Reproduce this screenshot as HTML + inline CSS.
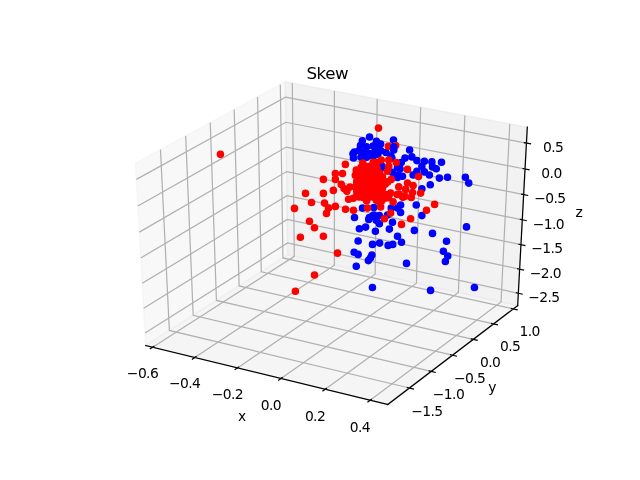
<!DOCTYPE html>
<html><head><meta charset="utf-8"><title>Skew</title>
<style>
html,body{margin:0;padding:0;background:#fff;}
svg{display:block;}
text{font-family:"DejaVu Sans","Liberation Sans",sans-serif;font-size:13.89px;fill:#000;text-anchor:middle;letter-spacing:-0.6px;}
.title{font-size:16.67px;letter-spacing:-0.5px;}
</style></head><body>
<svg width="640" height="480" viewBox="0 0 640 480">
<rect width="640" height="480" fill="#fff"/>
<polygon points="145.75,345.53 287.71,254.91 285.35,81.76 135.47,163.18" fill="#f2f2f2" fill-opacity="0.5" stroke="#f2f2f2" stroke-opacity="0.5" stroke-width="1.39" stroke-linejoin="miter"/>
<polygon points="287.71,254.91 517.67,305.57 527.29,127.20 285.35,81.76" fill="#e6e6e6" fill-opacity="0.5" stroke="#e6e6e6" stroke-opacity="0.5" stroke-width="1.39" stroke-linejoin="miter"/>
<polygon points="145.75,345.53 387.70,404.53 517.67,305.57 287.71,254.91" fill="#ececec" fill-opacity="0.5" stroke="#ececec" stroke-opacity="0.5" stroke-width="1.39" stroke-linejoin="miter"/>
<g>
<polyline points="145.75,345.53 387.70,404.53" fill="none" stroke="#000" stroke-width="1.25" stroke-linecap="square"/>
<polyline points="152.68,347.22 294.31,256.37 292.28,83.06" fill="none" stroke="#b0b0b0" stroke-width="1.22"/>
<polyline points="194.76,357.48 334.41,265.20 334.40,90.97" fill="none" stroke="#b0b0b0" stroke-width="1.22"/>
<polyline points="237.53,367.91 375.12,274.17 377.19,99.01" fill="none" stroke="#b0b0b0" stroke-width="1.22"/>
<polyline points="281.00,378.51 416.45,283.28 420.67,107.17" fill="none" stroke="#b0b0b0" stroke-width="1.22"/>
<polyline points="325.20,389.29 458.42,292.52 464.85,115.47" fill="none" stroke="#b0b0b0" stroke-width="1.22"/>
<polyline points="370.15,400.25 501.04,301.91 509.76,123.91" fill="none" stroke="#b0b0b0" stroke-width="1.22"/>
<polyline points="153.90,346.44 150.23,348.79" fill="none" stroke="#000" stroke-width="1.2" stroke-linecap="square"/>
<polyline points="195.96,356.69 192.34,359.08" fill="none" stroke="#000" stroke-width="1.2" stroke-linecap="square"/>
<polyline points="238.71,367.10 235.15,369.53" fill="none" stroke="#000" stroke-width="1.2" stroke-linecap="square"/>
<polyline points="282.17,377.69 278.66,380.16" fill="none" stroke="#000" stroke-width="1.2" stroke-linecap="square"/>
<polyline points="326.35,388.46 322.90,390.97" fill="none" stroke="#000" stroke-width="1.2" stroke-linecap="square"/>
<polyline points="371.28,399.40 367.88,401.96" fill="none" stroke="#000" stroke-width="1.2" stroke-linecap="square"/>
</g>
<g>
<polyline points="387.70,404.53 517.67,305.57" fill="none" stroke="#000" stroke-width="1.25" stroke-linecap="square"/>
<polyline points="409.38,388.03 169.36,330.46 160.48,149.59" fill="none" stroke="#b0b0b0" stroke-width="1.22"/>
<polyline points="431.22,371.40 193.18,315.26 185.68,135.90" fill="none" stroke="#b0b0b0" stroke-width="1.22"/>
<polyline points="452.51,355.18 216.43,300.42 210.24,122.56" fill="none" stroke="#b0b0b0" stroke-width="1.22"/>
<polyline points="473.28,339.37 239.12,285.93 234.18,109.56" fill="none" stroke="#b0b0b0" stroke-width="1.22"/>
<polyline points="493.53,323.95 261.28,271.79 257.53,96.87" fill="none" stroke="#b0b0b0" stroke-width="1.22"/>
<polyline points="513.29,308.91 282.92,257.97 280.31,84.50" fill="none" stroke="#b0b0b0" stroke-width="1.22"/>
<polyline points="407.37,387.55 413.40,388.99" fill="none" stroke="#000" stroke-width="1.2" stroke-linecap="square"/>
<polyline points="429.23,370.93 435.21,372.34" fill="none" stroke="#000" stroke-width="1.2" stroke-linecap="square"/>
<polyline points="450.54,354.73 456.46,356.10" fill="none" stroke="#000" stroke-width="1.2" stroke-linecap="square"/>
<polyline points="471.32,338.93 477.19,340.27" fill="none" stroke="#000" stroke-width="1.2" stroke-linecap="square"/>
<polyline points="491.59,323.52 497.41,324.82" fill="none" stroke="#000" stroke-width="1.2" stroke-linecap="square"/>
<polyline points="511.37,308.48 517.14,309.76" fill="none" stroke="#000" stroke-width="1.2" stroke-linecap="square"/>
</g>
<g>
<polyline points="517.67,305.57 527.29,127.20" fill="none" stroke="#000" stroke-width="1.25" stroke-linecap="square"/>
<polyline points="518.33,293.31 287.55,242.98 145.05,333.01" fill="none" stroke="#b0b0b0" stroke-width="1.22"/>
<polyline points="519.63,269.15 287.23,219.50 143.66,308.35" fill="none" stroke="#b0b0b0" stroke-width="1.22"/>
<polyline points="520.95,244.65 286.90,195.69 142.25,283.32" fill="none" stroke="#b0b0b0" stroke-width="1.22"/>
<polyline points="522.30,219.80 286.57,171.56 140.81,257.92" fill="none" stroke="#b0b0b0" stroke-width="1.22"/>
<polyline points="523.66,194.59 286.24,147.08 139.36,232.14" fill="none" stroke="#b0b0b0" stroke-width="1.22"/>
<polyline points="525.03,169.00 285.90,122.27 137.89,205.97" fill="none" stroke="#b0b0b0" stroke-width="1.22"/>
<polyline points="526.43,143.04 285.56,97.11 136.39,179.40" fill="none" stroke="#b0b0b0" stroke-width="1.22"/>
<polyline points="516.40,292.89 522.19,294.15" fill="none" stroke="#000" stroke-width="1.2" stroke-linecap="square"/>
<polyline points="517.69,268.74 523.52,269.98" fill="none" stroke="#000" stroke-width="1.2" stroke-linecap="square"/>
<polyline points="519.00,244.24 524.87,245.47" fill="none" stroke="#000" stroke-width="1.2" stroke-linecap="square"/>
<polyline points="520.33,219.40 526.24,220.61" fill="none" stroke="#000" stroke-width="1.2" stroke-linecap="square"/>
<polyline points="521.67,194.19 527.63,195.38" fill="none" stroke="#000" stroke-width="1.2" stroke-linecap="square"/>
<polyline points="523.04,168.61 529.04,169.79" fill="none" stroke="#000" stroke-width="1.2" stroke-linecap="square"/>
<polyline points="524.42,142.66 530.47,143.81" fill="none" stroke="#000" stroke-width="1.2" stroke-linecap="square"/>
</g>
<g>
<circle cx="354.5" cy="217.5" r="3.1" fill="#0000ff" fill-opacity="1" stroke="#0000ff" stroke-opacity="1" stroke-width="1.39"/>
<circle cx="359.38" cy="228.75" r="3.1" fill="#0000ff" fill-opacity="1" stroke="#0000ff" stroke-opacity="1" stroke-width="1.39"/>
<circle cx="386" cy="152.5" r="3.1" fill="#0000ff" fill-opacity="1" stroke="#0000ff" stroke-opacity="1" stroke-width="1.39"/>
<circle cx="393.5" cy="140.0" r="3.1" fill="#0000ff" fill-opacity="1" stroke="#0000ff" stroke-opacity="1" stroke-width="1.39"/>
<circle cx="409.62" cy="150.0" r="3.1" fill="#0000ff" fill-opacity="1" stroke="#0000ff" stroke-opacity="1" stroke-width="1.39"/>
<circle cx="405.0" cy="158.12" r="3.1" fill="#0000ff" fill-opacity="1" stroke="#0000ff" stroke-opacity="1" stroke-width="1.39"/>
<circle cx="411.88" cy="156.88" r="3.1" fill="#0000ff" fill-opacity="1" stroke="#0000ff" stroke-opacity="1" stroke-width="1.39"/>
<circle cx="416.88" cy="160.62" r="3.1" fill="#0000ff" fill-opacity="1" stroke="#0000ff" stroke-opacity="1" stroke-width="1.39"/>
<circle cx="424.38" cy="161.25" r="3.1" fill="#0000ff" fill-opacity="1" stroke="#0000ff" stroke-opacity="1" stroke-width="1.39"/>
<circle cx="431.88" cy="161.88" r="3.1" fill="#0000ff" fill-opacity="1" stroke="#0000ff" stroke-opacity="1" stroke-width="1.39"/>
<circle cx="441.5" cy="162.25" r="3.1" fill="#0000ff" fill-opacity="1" stroke="#0000ff" stroke-opacity="1" stroke-width="1.39"/>
<circle cx="421.88" cy="166.25" r="3.1" fill="#0000ff" fill-opacity="1" stroke="#0000ff" stroke-opacity="1" stroke-width="1.39"/>
<circle cx="432.5" cy="166.88" r="3.1" fill="#0000ff" fill-opacity="1" stroke="#0000ff" stroke-opacity="1" stroke-width="1.39"/>
<circle cx="436.25" cy="168.75" r="3.1" fill="#0000ff" fill-opacity="1" stroke="#0000ff" stroke-opacity="1" stroke-width="1.39"/>
<circle cx="416.88" cy="171.25" r="3.1" fill="#0000ff" fill-opacity="1" stroke="#0000ff" stroke-opacity="1" stroke-width="1.39"/>
<circle cx="424.38" cy="171.88" r="3.1" fill="#0000ff" fill-opacity="1" stroke="#0000ff" stroke-opacity="1" stroke-width="1.39"/>
<circle cx="429.38" cy="175.0" r="3.1" fill="#0000ff" fill-opacity="1" stroke="#0000ff" stroke-opacity="1" stroke-width="1.39"/>
<circle cx="439.38" cy="178.12" r="3.1" fill="#0000ff" fill-opacity="1" stroke="#0000ff" stroke-opacity="1" stroke-width="1.39"/>
<circle cx="447.5" cy="177.25" r="3.1" fill="#0000ff" fill-opacity="1" stroke="#0000ff" stroke-opacity="1" stroke-width="1.39"/>
<circle cx="465.38" cy="177.25" r="3.1" fill="#0000ff" fill-opacity="1" stroke="#0000ff" stroke-opacity="1" stroke-width="1.39"/>
<circle cx="468.75" cy="183.12" r="3.1" fill="#0000ff" fill-opacity="1" stroke="#0000ff" stroke-opacity="1" stroke-width="1.39"/>
<circle cx="430.25" cy="184.75" r="3.1" fill="#0000ff" fill-opacity="1" stroke="#0000ff" stroke-opacity="1" stroke-width="1.39"/>
<circle cx="421.88" cy="188.75" r="3.1" fill="#0000ff" fill-opacity="1" stroke="#0000ff" stroke-opacity="1" stroke-width="1.39"/>
<circle cx="413.12" cy="175.0" r="3.1" fill="#0000ff" fill-opacity="1" stroke="#0000ff" stroke-opacity="1" stroke-width="1.39"/>
<circle cx="400.0" cy="168.75" r="3.1" fill="#0000ff" fill-opacity="1" stroke="#0000ff" stroke-opacity="1" stroke-width="1.39"/>
<circle cx="397.5" cy="177.5" r="3.1" fill="#0000ff" fill-opacity="1" stroke="#0000ff" stroke-opacity="1" stroke-width="1.39"/>
<circle cx="402.5" cy="176.25" r="3.1" fill="#0000ff" fill-opacity="1" stroke="#0000ff" stroke-opacity="1" stroke-width="1.39"/>
<circle cx="392.5" cy="172.5" r="3.1" fill="#0000ff" fill-opacity="1" stroke="#0000ff" stroke-opacity="1" stroke-width="1.39"/>
<circle cx="401.25" cy="162.5" r="3.1" fill="#0000ff" fill-opacity="1" stroke="#0000ff" stroke-opacity="1" stroke-width="1.39"/>
<circle cx="421.88" cy="215.62" r="3.1" fill="#0000ff" fill-opacity="1" stroke="#0000ff" stroke-opacity="1" stroke-width="1.39"/>
<circle cx="466.5" cy="226.88" r="3.1" fill="#0000ff" fill-opacity="1" stroke="#0000ff" stroke-opacity="1" stroke-width="1.39"/>
<circle cx="416.25" cy="205.0" r="3.1" fill="#0000ff" fill-opacity="1" stroke="#0000ff" stroke-opacity="1" stroke-width="1.39"/>
<circle cx="400.62" cy="205.0" r="3.1" fill="#0000ff" fill-opacity="1" stroke="#0000ff" stroke-opacity="1" stroke-width="1.39"/>
<circle cx="400.62" cy="212.5" r="3.1" fill="#0000ff" fill-opacity="1" stroke="#0000ff" stroke-opacity="1" stroke-width="1.39"/>
<circle cx="397.5" cy="208.12" r="3.1" fill="#0000ff" fill-opacity="1" stroke="#0000ff" stroke-opacity="1" stroke-width="1.39"/>
<circle cx="362.5" cy="208.12" r="3.1" fill="#0000ff" fill-opacity="1" stroke="#0000ff" stroke-opacity="1" stroke-width="1.39"/>
<circle cx="369.38" cy="217.5" r="3.1" fill="#0000ff" fill-opacity="1" stroke="#0000ff" stroke-opacity="1" stroke-width="1.39"/>
<circle cx="373.75" cy="215.0" r="3.1" fill="#0000ff" fill-opacity="1" stroke="#0000ff" stroke-opacity="1" stroke-width="1.39"/>
<circle cx="379.38" cy="215.62" r="3.1" fill="#0000ff" fill-opacity="1" stroke="#0000ff" stroke-opacity="1" stroke-width="1.39"/>
<circle cx="373.75" cy="207.5" r="3.1" fill="#0000ff" fill-opacity="1" stroke="#0000ff" stroke-opacity="1" stroke-width="1.39"/>
<circle cx="387.5" cy="215.0" r="3.1" fill="#0000ff" fill-opacity="1" stroke="#0000ff" stroke-opacity="1" stroke-width="1.39"/>
<circle cx="391.25" cy="208.12" r="3.1" fill="#0000ff" fill-opacity="1" stroke="#0000ff" stroke-opacity="1" stroke-width="1.39"/>
<circle cx="358.12" cy="241.0" r="3.1" fill="#0000ff" fill-opacity="1" stroke="#0000ff" stroke-opacity="1" stroke-width="1.39"/>
<circle cx="354.12" cy="252.25" r="3.1" fill="#0000ff" fill-opacity="1" stroke="#0000ff" stroke-opacity="1" stroke-width="1.39"/>
<circle cx="358.12" cy="254.38" r="3.1" fill="#0000ff" fill-opacity="1" stroke="#0000ff" stroke-opacity="1" stroke-width="1.39"/>
<circle cx="356.25" cy="266.25" r="3.1" fill="#0000ff" fill-opacity="1" stroke="#0000ff" stroke-opacity="1" stroke-width="1.39"/>
<circle cx="368.75" cy="219.38" r="3.1" fill="#0000ff" fill-opacity="1" stroke="#0000ff" stroke-opacity="1" stroke-width="1.39"/>
<circle cx="379.38" cy="223.75" r="3.1" fill="#0000ff" fill-opacity="1" stroke="#0000ff" stroke-opacity="1" stroke-width="1.39"/>
<circle cx="392.5" cy="222.25" r="3.1" fill="#0000ff" fill-opacity="1" stroke="#0000ff" stroke-opacity="1" stroke-width="1.39"/>
<circle cx="365.62" cy="227.12" r="3.1" fill="#0000ff" fill-opacity="1" stroke="#0000ff" stroke-opacity="1" stroke-width="1.39"/>
<circle cx="375.38" cy="231.25" r="3.1" fill="#0000ff" fill-opacity="1" stroke="#0000ff" stroke-opacity="1" stroke-width="1.39"/>
<circle cx="389.38" cy="229.12" r="3.1" fill="#0000ff" fill-opacity="1" stroke="#0000ff" stroke-opacity="1" stroke-width="1.39"/>
<circle cx="414.38" cy="230.38" r="3.1" fill="#0000ff" fill-opacity="1" stroke="#0000ff" stroke-opacity="1" stroke-width="1.39"/>
<circle cx="397.5" cy="236.25" r="3.1" fill="#0000ff" fill-opacity="1" stroke="#0000ff" stroke-opacity="1" stroke-width="1.39"/>
<circle cx="372.5" cy="244.38" r="3.1" fill="#0000ff" fill-opacity="1" stroke="#0000ff" stroke-opacity="1" stroke-width="1.39"/>
<circle cx="379.62" cy="243.12" r="3.1" fill="#0000ff" fill-opacity="1" stroke="#0000ff" stroke-opacity="1" stroke-width="1.39"/>
<circle cx="388.12" cy="245.38" r="3.1" fill="#0000ff" fill-opacity="1" stroke="#0000ff" stroke-opacity="1" stroke-width="1.39"/>
<circle cx="392.75" cy="244.38" r="3.1" fill="#0000ff" fill-opacity="1" stroke="#0000ff" stroke-opacity="1" stroke-width="1.39"/>
<circle cx="401.5" cy="242.25" r="3.1" fill="#0000ff" fill-opacity="1" stroke="#0000ff" stroke-opacity="1" stroke-width="1.39"/>
<circle cx="371.88" cy="255.0" r="3.1" fill="#0000ff" fill-opacity="1" stroke="#0000ff" stroke-opacity="1" stroke-width="1.39"/>
<circle cx="370.38" cy="258.12" r="3.1" fill="#0000ff" fill-opacity="1" stroke="#0000ff" stroke-opacity="1" stroke-width="1.39"/>
<circle cx="368.38" cy="260.62" r="3.1" fill="#0000ff" fill-opacity="1" stroke="#0000ff" stroke-opacity="1" stroke-width="1.39"/>
<circle cx="406.5" cy="263.38" r="3.1" fill="#0000ff" fill-opacity="1" stroke="#0000ff" stroke-opacity="1" stroke-width="1.39"/>
<circle cx="432.5" cy="233.38" r="3.1" fill="#0000ff" fill-opacity="1" stroke="#0000ff" stroke-opacity="1" stroke-width="1.39"/>
<circle cx="446.5" cy="241.25" r="3.1" fill="#0000ff" fill-opacity="1" stroke="#0000ff" stroke-opacity="1" stroke-width="1.39"/>
<circle cx="443.38" cy="251.25" r="3.1" fill="#0000ff" fill-opacity="1" stroke="#0000ff" stroke-opacity="1" stroke-width="1.39"/>
<circle cx="447.75" cy="256.0" r="3.1" fill="#0000ff" fill-opacity="1" stroke="#0000ff" stroke-opacity="1" stroke-width="1.39"/>
<circle cx="445.38" cy="261.5" r="3.1" fill="#0000ff" fill-opacity="1" stroke="#0000ff" stroke-opacity="1" stroke-width="1.39"/>
<circle cx="372.44" cy="287.56" r="3.1" fill="#0000ff" fill-opacity="1" stroke="#0000ff" stroke-opacity="1" stroke-width="1.39"/>
<circle cx="430.56" cy="290.38" r="3.1" fill="#0000ff" fill-opacity="1" stroke="#0000ff" stroke-opacity="1" stroke-width="1.39"/>
<circle cx="474.44" cy="287.56" r="3.1" fill="#0000ff" fill-opacity="1" stroke="#0000ff" stroke-opacity="1" stroke-width="1.39"/>
<circle cx="352.97" cy="153.75" r="3.1" fill="#0000ff" fill-opacity="1" stroke="#0000ff" stroke-opacity="1" stroke-width="1.39"/>
<circle cx="353.44" cy="157.97" r="3.1" fill="#0000ff" fill-opacity="1" stroke="#0000ff" stroke-opacity="1" stroke-width="1.39"/>
<circle cx="382.03" cy="167.81" r="3.1" fill="#0000ff" fill-opacity="1" stroke="#0000ff" stroke-opacity="1" stroke-width="1.39"/>
<circle cx="377.81" cy="174.37" r="3.1" fill="#0000ff" fill-opacity="1" stroke="#0000ff" stroke-opacity="1" stroke-width="1.39"/>
<circle cx="372.5" cy="216.09" r="3.1" fill="#0000ff" fill-opacity="1" stroke="#0000ff" stroke-opacity="1" stroke-width="1.39"/>
<circle cx="376.25" cy="220.31" r="3.1" fill="#0000ff" fill-opacity="1" stroke="#0000ff" stroke-opacity="1" stroke-width="1.39"/>
<circle cx="378.75" cy="144.69" r="3.1" fill="#0000ff" fill-opacity="1" stroke="#0000ff" stroke-opacity="1" stroke-width="1.39"/>
<circle cx="378.75" cy="151.25" r="3.1" fill="#0000ff" fill-opacity="1" stroke="#0000ff" stroke-opacity="1" stroke-width="1.39"/>
<circle cx="398.44" cy="174.69" r="3.1" fill="#0000ff" fill-opacity="1" stroke="#0000ff" stroke-opacity="1" stroke-width="1.39"/>
<circle cx="390.94" cy="155.94" r="3.1" fill="#0000ff" fill-opacity="1" stroke="#0000ff" stroke-opacity="1" stroke-width="1.39"/>
<circle cx="382.03" cy="166.25" r="3.1" fill="#0000ff" fill-opacity="1" stroke="#0000ff" stroke-opacity="1" stroke-width="1.39"/>
<circle cx="369.56" cy="137.03" r="3.1" fill="#0000ff" fill-opacity="1" stroke="#0000ff" stroke-opacity="1" stroke-width="1.39"/>
<circle cx="362.34" cy="140.78" r="3.1" fill="#0000ff" fill-opacity="1" stroke="#0000ff" stroke-opacity="1" stroke-width="1.39"/>
<circle cx="376.41" cy="141.25" r="3.1" fill="#0000ff" fill-opacity="1" stroke="#0000ff" stroke-opacity="1" stroke-width="1.39"/>
<circle cx="380.62" cy="144.06" r="3.1" fill="#0000ff" fill-opacity="1" stroke="#0000ff" stroke-opacity="1" stroke-width="1.39"/>
<circle cx="360.47" cy="145.47" r="3.1" fill="#0000ff" fill-opacity="1" stroke="#0000ff" stroke-opacity="1" stroke-width="1.39"/>
<circle cx="366.56" cy="146.87" r="3.1" fill="#0000ff" fill-opacity="1" stroke="#0000ff" stroke-opacity="1" stroke-width="1.39"/>
<circle cx="373.12" cy="145.94" r="3.1" fill="#0000ff" fill-opacity="1" stroke="#0000ff" stroke-opacity="1" stroke-width="1.39"/>
<circle cx="354.37" cy="152.03" r="3.1" fill="#0000ff" fill-opacity="1" stroke="#0000ff" stroke-opacity="1" stroke-width="1.39"/>
<circle cx="359.06" cy="150.62" r="3.1" fill="#0000ff" fill-opacity="1" stroke="#0000ff" stroke-opacity="1" stroke-width="1.39"/>
<circle cx="363.75" cy="152.5" r="3.1" fill="#0000ff" fill-opacity="1" stroke="#0000ff" stroke-opacity="1" stroke-width="1.39"/>
<circle cx="369.37" cy="153.44" r="3.1" fill="#0000ff" fill-opacity="1" stroke="#0000ff" stroke-opacity="1" stroke-width="1.39"/>
<circle cx="375.0" cy="151.56" r="3.1" fill="#0000ff" fill-opacity="1" stroke="#0000ff" stroke-opacity="1" stroke-width="1.39"/>
<circle cx="380.62" cy="150.62" r="3.1" fill="#0000ff" fill-opacity="1" stroke="#0000ff" stroke-opacity="1" stroke-width="1.39"/>
<circle cx="360.94" cy="157.19" r="3.1" fill="#0000ff" fill-opacity="1" stroke="#0000ff" stroke-opacity="1" stroke-width="1.39"/>
<circle cx="366.56" cy="157.19" r="3.1" fill="#0000ff" fill-opacity="1" stroke="#0000ff" stroke-opacity="1" stroke-width="1.39"/>
<circle cx="373.12" cy="156.25" r="3.1" fill="#0000ff" fill-opacity="1" stroke="#0000ff" stroke-opacity="1" stroke-width="1.39"/>
<circle cx="377.81" cy="154.37" r="3.1" fill="#0000ff" fill-opacity="1" stroke="#0000ff" stroke-opacity="1" stroke-width="1.39"/>
<circle cx="397.5" cy="167.5" r="3.1" fill="#0000ff" fill-opacity="1" stroke="#0000ff" stroke-opacity="1" stroke-width="1.39"/>
<circle cx="391.87" cy="158.12" r="3.1" fill="#0000ff" fill-opacity="1" stroke="#0000ff" stroke-opacity="1" stroke-width="1.39"/>
<circle cx="355.81" cy="175.29" r="3.1" fill="#ff0000" fill-opacity="1" stroke="#ff0000" stroke-opacity="1" stroke-width="1.39"/>
<circle cx="356.69" cy="181.67" r="3.1" fill="#ff0000" fill-opacity="1" stroke="#ff0000" stroke-opacity="1" stroke-width="1.39"/>
<circle cx="356.73" cy="184.42" r="3.1" fill="#ff0000" fill-opacity="1" stroke="#ff0000" stroke-opacity="1" stroke-width="1.39"/>
<circle cx="357.08" cy="188.54" r="3.1" fill="#ff0000" fill-opacity="1" stroke="#ff0000" stroke-opacity="1" stroke-width="1.39"/>
<circle cx="356.76" cy="191.17" r="3.1" fill="#ff0000" fill-opacity="1" stroke="#ff0000" stroke-opacity="1" stroke-width="1.39"/>
<circle cx="356.95" cy="194.79" r="3.1" fill="#ff0000" fill-opacity="1" stroke="#ff0000" stroke-opacity="1" stroke-width="1.39"/>
<circle cx="359.15" cy="171.48" r="3.1" fill="#ff0000" fill-opacity="1" stroke="#ff0000" stroke-opacity="1" stroke-width="1.39"/>
<circle cx="358.92" cy="175.83" r="3.1" fill="#ff0000" fill-opacity="1" stroke="#ff0000" stroke-opacity="1" stroke-width="1.39"/>
<circle cx="359.82" cy="177.83" r="3.1" fill="#ff0000" fill-opacity="1" stroke="#ff0000" stroke-opacity="1" stroke-width="1.39"/>
<circle cx="359.46" cy="180.88" r="3.1" fill="#ff0000" fill-opacity="1" stroke="#ff0000" stroke-opacity="1" stroke-width="1.39"/>
<circle cx="359.13" cy="185.17" r="3.1" fill="#ff0000" fill-opacity="1" stroke="#ff0000" stroke-opacity="1" stroke-width="1.39"/>
<circle cx="359.84" cy="187.97" r="3.1" fill="#ff0000" fill-opacity="1" stroke="#ff0000" stroke-opacity="1" stroke-width="1.39"/>
<circle cx="359.24" cy="191.44" r="3.1" fill="#ff0000" fill-opacity="1" stroke="#ff0000" stroke-opacity="1" stroke-width="1.39"/>
<circle cx="360.33" cy="194.3" r="3.1" fill="#ff0000" fill-opacity="1" stroke="#ff0000" stroke-opacity="1" stroke-width="1.39"/>
<circle cx="358.91" cy="196.89" r="3.1" fill="#ff0000" fill-opacity="1" stroke="#ff0000" stroke-opacity="1" stroke-width="1.39"/>
<circle cx="363.11" cy="169.35" r="3.1" fill="#ff0000" fill-opacity="1" stroke="#ff0000" stroke-opacity="1" stroke-width="1.39"/>
<circle cx="363.16" cy="171.77" r="3.1" fill="#ff0000" fill-opacity="1" stroke="#ff0000" stroke-opacity="1" stroke-width="1.39"/>
<circle cx="363.16" cy="174.62" r="3.1" fill="#ff0000" fill-opacity="1" stroke="#ff0000" stroke-opacity="1" stroke-width="1.39"/>
<circle cx="362.5" cy="178.27" r="3.1" fill="#ff0000" fill-opacity="1" stroke="#ff0000" stroke-opacity="1" stroke-width="1.39"/>
<circle cx="363.4" cy="181.05" r="3.1" fill="#ff0000" fill-opacity="1" stroke="#ff0000" stroke-opacity="1" stroke-width="1.39"/>
<circle cx="363.41" cy="185.28" r="3.1" fill="#ff0000" fill-opacity="1" stroke="#ff0000" stroke-opacity="1" stroke-width="1.39"/>
<circle cx="363.55" cy="187.79" r="3.1" fill="#ff0000" fill-opacity="1" stroke="#ff0000" stroke-opacity="1" stroke-width="1.39"/>
<circle cx="362.33" cy="190.78" r="3.1" fill="#ff0000" fill-opacity="1" stroke="#ff0000" stroke-opacity="1" stroke-width="1.39"/>
<circle cx="363.32" cy="195.14" r="3.1" fill="#ff0000" fill-opacity="1" stroke="#ff0000" stroke-opacity="1" stroke-width="1.39"/>
<circle cx="363.12" cy="197.57" r="3.1" fill="#ff0000" fill-opacity="1" stroke="#ff0000" stroke-opacity="1" stroke-width="1.39"/>
<circle cx="366.44" cy="168.37" r="3.1" fill="#ff0000" fill-opacity="1" stroke="#ff0000" stroke-opacity="1" stroke-width="1.39"/>
<circle cx="366.74" cy="172.4" r="3.1" fill="#ff0000" fill-opacity="1" stroke="#ff0000" stroke-opacity="1" stroke-width="1.39"/>
<circle cx="365.75" cy="175.92" r="3.1" fill="#ff0000" fill-opacity="1" stroke="#ff0000" stroke-opacity="1" stroke-width="1.39"/>
<circle cx="366.32" cy="178.94" r="3.1" fill="#ff0000" fill-opacity="1" stroke="#ff0000" stroke-opacity="1" stroke-width="1.39"/>
<circle cx="365.27" cy="180.89" r="3.1" fill="#ff0000" fill-opacity="1" stroke="#ff0000" stroke-opacity="1" stroke-width="1.39"/>
<circle cx="366.39" cy="184.49" r="3.1" fill="#ff0000" fill-opacity="1" stroke="#ff0000" stroke-opacity="1" stroke-width="1.39"/>
<circle cx="366.03" cy="187.45" r="3.1" fill="#ff0000" fill-opacity="1" stroke="#ff0000" stroke-opacity="1" stroke-width="1.39"/>
<circle cx="366.76" cy="191.2" r="3.1" fill="#ff0000" fill-opacity="1" stroke="#ff0000" stroke-opacity="1" stroke-width="1.39"/>
<circle cx="366.53" cy="193.72" r="3.1" fill="#ff0000" fill-opacity="1" stroke="#ff0000" stroke-opacity="1" stroke-width="1.39"/>
<circle cx="365.97" cy="196.9" r="3.1" fill="#ff0000" fill-opacity="1" stroke="#ff0000" stroke-opacity="1" stroke-width="1.39"/>
<circle cx="366.61" cy="200.71" r="3.1" fill="#ff0000" fill-opacity="1" stroke="#ff0000" stroke-opacity="1" stroke-width="1.39"/>
<circle cx="368.84" cy="169.28" r="3.1" fill="#ff0000" fill-opacity="1" stroke="#ff0000" stroke-opacity="1" stroke-width="1.39"/>
<circle cx="368.64" cy="171.56" r="3.1" fill="#ff0000" fill-opacity="1" stroke="#ff0000" stroke-opacity="1" stroke-width="1.39"/>
<circle cx="368.79" cy="175.17" r="3.1" fill="#ff0000" fill-opacity="1" stroke="#ff0000" stroke-opacity="1" stroke-width="1.39"/>
<circle cx="368.4" cy="177.65" r="3.1" fill="#ff0000" fill-opacity="1" stroke="#ff0000" stroke-opacity="1" stroke-width="1.39"/>
<circle cx="369.14" cy="181.06" r="3.1" fill="#ff0000" fill-opacity="1" stroke="#ff0000" stroke-opacity="1" stroke-width="1.39"/>
<circle cx="369.49" cy="185.27" r="3.1" fill="#ff0000" fill-opacity="1" stroke="#ff0000" stroke-opacity="1" stroke-width="1.39"/>
<circle cx="369.33" cy="188.31" r="3.1" fill="#ff0000" fill-opacity="1" stroke="#ff0000" stroke-opacity="1" stroke-width="1.39"/>
<circle cx="369.03" cy="190.47" r="3.1" fill="#ff0000" fill-opacity="1" stroke="#ff0000" stroke-opacity="1" stroke-width="1.39"/>
<circle cx="369.1" cy="194.2" r="3.1" fill="#ff0000" fill-opacity="1" stroke="#ff0000" stroke-opacity="1" stroke-width="1.39"/>
<circle cx="369.36" cy="197.01" r="3.1" fill="#ff0000" fill-opacity="1" stroke="#ff0000" stroke-opacity="1" stroke-width="1.39"/>
<circle cx="372.73" cy="168.1" r="3.1" fill="#ff0000" fill-opacity="1" stroke="#ff0000" stroke-opacity="1" stroke-width="1.39"/>
<circle cx="372.07" cy="172.78" r="3.1" fill="#ff0000" fill-opacity="1" stroke="#ff0000" stroke-opacity="1" stroke-width="1.39"/>
<circle cx="373.15" cy="175.17" r="3.1" fill="#ff0000" fill-opacity="1" stroke="#ff0000" stroke-opacity="1" stroke-width="1.39"/>
<circle cx="372.78" cy="178.61" r="3.1" fill="#ff0000" fill-opacity="1" stroke="#ff0000" stroke-opacity="1" stroke-width="1.39"/>
<circle cx="372.35" cy="182.17" r="3.1" fill="#ff0000" fill-opacity="1" stroke="#ff0000" stroke-opacity="1" stroke-width="1.39"/>
<circle cx="371.88" cy="185.33" r="3.1" fill="#ff0000" fill-opacity="1" stroke="#ff0000" stroke-opacity="1" stroke-width="1.39"/>
<circle cx="371.67" cy="188.59" r="3.1" fill="#ff0000" fill-opacity="1" stroke="#ff0000" stroke-opacity="1" stroke-width="1.39"/>
<circle cx="372.68" cy="191.11" r="3.1" fill="#ff0000" fill-opacity="1" stroke="#ff0000" stroke-opacity="1" stroke-width="1.39"/>
<circle cx="372.67" cy="194.34" r="3.1" fill="#ff0000" fill-opacity="1" stroke="#ff0000" stroke-opacity="1" stroke-width="1.39"/>
<circle cx="372.85" cy="196.98" r="3.1" fill="#ff0000" fill-opacity="1" stroke="#ff0000" stroke-opacity="1" stroke-width="1.39"/>
<circle cx="375.26" cy="169.44" r="3.1" fill="#ff0000" fill-opacity="1" stroke="#ff0000" stroke-opacity="1" stroke-width="1.39"/>
<circle cx="376.27" cy="178.98" r="3.1" fill="#ff0000" fill-opacity="1" stroke="#ff0000" stroke-opacity="1" stroke-width="1.39"/>
<circle cx="375.61" cy="181.71" r="3.1" fill="#ff0000" fill-opacity="1" stroke="#ff0000" stroke-opacity="1" stroke-width="1.39"/>
<circle cx="374.98" cy="185.22" r="3.1" fill="#ff0000" fill-opacity="1" stroke="#ff0000" stroke-opacity="1" stroke-width="1.39"/>
<circle cx="375.08" cy="188.05" r="3.1" fill="#ff0000" fill-opacity="1" stroke="#ff0000" stroke-opacity="1" stroke-width="1.39"/>
<circle cx="375.0" cy="190.52" r="3.1" fill="#ff0000" fill-opacity="1" stroke="#ff0000" stroke-opacity="1" stroke-width="1.39"/>
<circle cx="375.77" cy="194.39" r="3.1" fill="#ff0000" fill-opacity="1" stroke="#ff0000" stroke-opacity="1" stroke-width="1.39"/>
<circle cx="375.88" cy="198.07" r="3.1" fill="#ff0000" fill-opacity="1" stroke="#ff0000" stroke-opacity="1" stroke-width="1.39"/>
<circle cx="376.37" cy="200.13" r="3.1" fill="#ff0000" fill-opacity="1" stroke="#ff0000" stroke-opacity="1" stroke-width="1.39"/>
<circle cx="379.32" cy="178.38" r="3.1" fill="#ff0000" fill-opacity="1" stroke="#ff0000" stroke-opacity="1" stroke-width="1.39"/>
<circle cx="379.43" cy="181.43" r="3.1" fill="#ff0000" fill-opacity="1" stroke="#ff0000" stroke-opacity="1" stroke-width="1.39"/>
<circle cx="379.19" cy="184.88" r="3.1" fill="#ff0000" fill-opacity="1" stroke="#ff0000" stroke-opacity="1" stroke-width="1.39"/>
<circle cx="379.0" cy="187.63" r="3.1" fill="#ff0000" fill-opacity="1" stroke="#ff0000" stroke-opacity="1" stroke-width="1.39"/>
<circle cx="379.5" cy="191.63" r="3.1" fill="#ff0000" fill-opacity="1" stroke="#ff0000" stroke-opacity="1" stroke-width="1.39"/>
<circle cx="378.23" cy="194.46" r="3.1" fill="#ff0000" fill-opacity="1" stroke="#ff0000" stroke-opacity="1" stroke-width="1.39"/>
<circle cx="379.59" cy="196.88" r="3.1" fill="#ff0000" fill-opacity="1" stroke="#ff0000" stroke-opacity="1" stroke-width="1.39"/>
<circle cx="378.48" cy="201.19" r="3.1" fill="#ff0000" fill-opacity="1" stroke="#ff0000" stroke-opacity="1" stroke-width="1.39"/>
<circle cx="382.07" cy="178.46" r="3.1" fill="#ff0000" fill-opacity="1" stroke="#ff0000" stroke-opacity="1" stroke-width="1.39"/>
<circle cx="381.94" cy="180.81" r="3.1" fill="#ff0000" fill-opacity="1" stroke="#ff0000" stroke-opacity="1" stroke-width="1.39"/>
<circle cx="381.83" cy="185.6" r="3.1" fill="#ff0000" fill-opacity="1" stroke="#ff0000" stroke-opacity="1" stroke-width="1.39"/>
<circle cx="382.51" cy="188.12" r="3.1" fill="#ff0000" fill-opacity="1" stroke="#ff0000" stroke-opacity="1" stroke-width="1.39"/>
<circle cx="381.51" cy="191.87" r="3.1" fill="#ff0000" fill-opacity="1" stroke="#ff0000" stroke-opacity="1" stroke-width="1.39"/>
<circle cx="381.88" cy="194.59" r="3.1" fill="#ff0000" fill-opacity="1" stroke="#ff0000" stroke-opacity="1" stroke-width="1.39"/>
<circle cx="381.52" cy="197.32" r="3.1" fill="#ff0000" fill-opacity="1" stroke="#ff0000" stroke-opacity="1" stroke-width="1.39"/>
<circle cx="381.75" cy="200.63" r="3.1" fill="#ff0000" fill-opacity="1" stroke="#ff0000" stroke-opacity="1" stroke-width="1.39"/>
<circle cx="385.86" cy="181.95" r="3.1" fill="#ff0000" fill-opacity="1" stroke="#ff0000" stroke-opacity="1" stroke-width="1.39"/>
<circle cx="385.17" cy="184.13" r="3.1" fill="#ff0000" fill-opacity="1" stroke="#ff0000" stroke-opacity="1" stroke-width="1.39"/>
<circle cx="384.74" cy="194.39" r="3.1" fill="#ff0000" fill-opacity="1" stroke="#ff0000" stroke-opacity="1" stroke-width="1.39"/>
<circle cx="385.24" cy="197.88" r="3.1" fill="#ff0000" fill-opacity="1" stroke="#ff0000" stroke-opacity="1" stroke-width="1.39"/>
<circle cx="387.65" cy="181.99" r="3.1" fill="#ff0000" fill-opacity="1" stroke="#ff0000" stroke-opacity="1" stroke-width="1.39"/>
<circle cx="388.97" cy="195.14" r="3.1" fill="#ff0000" fill-opacity="1" stroke="#ff0000" stroke-opacity="1" stroke-width="1.39"/>
<circle cx="388.18" cy="197.79" r="3.1" fill="#ff0000" fill-opacity="1" stroke="#ff0000" stroke-opacity="1" stroke-width="1.39"/>
<circle cx="220.43" cy="154.36" r="3.1" fill="#ff0000" fill-opacity="1" stroke="#ff0000" stroke-opacity="1" stroke-width="1.39"/>
<circle cx="323.38" cy="179.38" r="3.1" fill="#ff0000" fill-opacity="1" stroke="#ff0000" stroke-opacity="1" stroke-width="1.39"/>
<circle cx="335.38" cy="173.5" r="3.1" fill="#ff0000" fill-opacity="1" stroke="#ff0000" stroke-opacity="1" stroke-width="1.39"/>
<circle cx="342.5" cy="173.5" r="3.1" fill="#ff0000" fill-opacity="1" stroke="#ff0000" stroke-opacity="1" stroke-width="1.39"/>
<circle cx="335.38" cy="179.38" r="3.1" fill="#ff0000" fill-opacity="1" stroke="#ff0000" stroke-opacity="1" stroke-width="1.39"/>
<circle cx="341.25" cy="184.38" r="3.1" fill="#ff0000" fill-opacity="1" stroke="#ff0000" stroke-opacity="1" stroke-width="1.39"/>
<circle cx="333.38" cy="190.38" r="3.1" fill="#ff0000" fill-opacity="1" stroke="#ff0000" stroke-opacity="1" stroke-width="1.39"/>
<circle cx="323.38" cy="193.38" r="3.1" fill="#ff0000" fill-opacity="1" stroke="#ff0000" stroke-opacity="1" stroke-width="1.39"/>
<circle cx="305.5" cy="193.38" r="3.1" fill="#ff0000" fill-opacity="1" stroke="#ff0000" stroke-opacity="1" stroke-width="1.39"/>
<circle cx="311.5" cy="202.5" r="3.1" fill="#ff0000" fill-opacity="1" stroke="#ff0000" stroke-opacity="1" stroke-width="1.39"/>
<circle cx="324.5" cy="203.12" r="3.1" fill="#ff0000" fill-opacity="1" stroke="#ff0000" stroke-opacity="1" stroke-width="1.39"/>
<circle cx="328.5" cy="208.12" r="3.1" fill="#ff0000" fill-opacity="1" stroke="#ff0000" stroke-opacity="1" stroke-width="1.39"/>
<circle cx="326.5" cy="213.38" r="3.1" fill="#ff0000" fill-opacity="1" stroke="#ff0000" stroke-opacity="1" stroke-width="1.39"/>
<circle cx="335.38" cy="206.38" r="3.1" fill="#ff0000" fill-opacity="1" stroke="#ff0000" stroke-opacity="1" stroke-width="1.39"/>
<circle cx="345.5" cy="209.25" r="3.1" fill="#ff0000" fill-opacity="1" stroke="#ff0000" stroke-opacity="1" stroke-width="1.39"/>
<circle cx="353.5" cy="210.25" r="3.1" fill="#ff0000" fill-opacity="1" stroke="#ff0000" stroke-opacity="1" stroke-width="1.39"/>
<circle cx="294.5" cy="208.38" r="3.1" fill="#ff0000" fill-opacity="1" stroke="#ff0000" stroke-opacity="1" stroke-width="1.39"/>
<circle cx="309.5" cy="221.25" r="3.1" fill="#ff0000" fill-opacity="1" stroke="#ff0000" stroke-opacity="1" stroke-width="1.39"/>
<circle cx="314.5" cy="227.75" r="3.1" fill="#ff0000" fill-opacity="1" stroke="#ff0000" stroke-opacity="1" stroke-width="1.39"/>
<circle cx="378.5" cy="128.12" r="3.1" fill="#ff0000" fill-opacity="1" stroke="#ff0000" stroke-opacity="1" stroke-width="1.39"/>
<circle cx="345.38" cy="164.38" r="3.1" fill="#ff0000" fill-opacity="1" stroke="#ff0000" stroke-opacity="1" stroke-width="1.39"/>
<circle cx="388.38" cy="146.25" r="3.1" fill="#ff0000" fill-opacity="1" stroke="#ff0000" stroke-opacity="1" stroke-width="1.39"/>
<circle cx="388.75" cy="166.25" r="3.1" fill="#ff0000" fill-opacity="1" stroke="#ff0000" stroke-opacity="1" stroke-width="1.39"/>
<circle cx="387.5" cy="171.25" r="3.1" fill="#ff0000" fill-opacity="1" stroke="#ff0000" stroke-opacity="1" stroke-width="1.39"/>
<circle cx="382.5" cy="176.88" r="3.1" fill="#ff0000" fill-opacity="1" stroke="#ff0000" stroke-opacity="1" stroke-width="1.39"/>
<circle cx="391.25" cy="179.38" r="3.1" fill="#ff0000" fill-opacity="1" stroke="#ff0000" stroke-opacity="1" stroke-width="1.39"/>
<circle cx="381.25" cy="160.0" r="3.1" fill="#ff0000" fill-opacity="1" stroke="#ff0000" stroke-opacity="1" stroke-width="1.39"/>
<circle cx="388.75" cy="160.0" r="3.1" fill="#ff0000" fill-opacity="1" stroke="#ff0000" stroke-opacity="1" stroke-width="1.39"/>
<circle cx="396.25" cy="162.5" r="3.1" fill="#ff0000" fill-opacity="1" stroke="#ff0000" stroke-opacity="1" stroke-width="1.39"/>
<circle cx="407.5" cy="169.38" r="3.1" fill="#ff0000" fill-opacity="1" stroke="#ff0000" stroke-opacity="1" stroke-width="1.39"/>
<circle cx="418.5" cy="176.5" r="3.1" fill="#ff0000" fill-opacity="1" stroke="#ff0000" stroke-opacity="1" stroke-width="1.39"/>
<circle cx="407.5" cy="183.12" r="3.1" fill="#ff0000" fill-opacity="1" stroke="#ff0000" stroke-opacity="1" stroke-width="1.39"/>
<circle cx="413.12" cy="185.62" r="3.1" fill="#ff0000" fill-opacity="1" stroke="#ff0000" stroke-opacity="1" stroke-width="1.39"/>
<circle cx="398.75" cy="186.88" r="3.1" fill="#ff0000" fill-opacity="1" stroke="#ff0000" stroke-opacity="1" stroke-width="1.39"/>
<circle cx="405.62" cy="189.38" r="3.1" fill="#ff0000" fill-opacity="1" stroke="#ff0000" stroke-opacity="1" stroke-width="1.39"/>
<circle cx="395.62" cy="145.62" r="3.1" fill="#ff0000" fill-opacity="1" stroke="#ff0000" stroke-opacity="1" stroke-width="1.39"/>
<circle cx="420.62" cy="193.12" r="3.1" fill="#ff0000" fill-opacity="1" stroke="#ff0000" stroke-opacity="1" stroke-width="1.39"/>
<circle cx="434.62" cy="204.38" r="3.1" fill="#ff0000" fill-opacity="1" stroke="#ff0000" stroke-opacity="1" stroke-width="1.39"/>
<circle cx="426.5" cy="210.25" r="3.1" fill="#ff0000" fill-opacity="1" stroke="#ff0000" stroke-opacity="1" stroke-width="1.39"/>
<circle cx="412.5" cy="192.5" r="3.1" fill="#ff0000" fill-opacity="1" stroke="#ff0000" stroke-opacity="1" stroke-width="1.39"/>
<circle cx="399.38" cy="194.38" r="3.1" fill="#ff0000" fill-opacity="1" stroke="#ff0000" stroke-opacity="1" stroke-width="1.39"/>
<circle cx="405.0" cy="196.25" r="3.1" fill="#ff0000" fill-opacity="1" stroke="#ff0000" stroke-opacity="1" stroke-width="1.39"/>
<circle cx="411.25" cy="197.5" r="3.1" fill="#ff0000" fill-opacity="1" stroke="#ff0000" stroke-opacity="1" stroke-width="1.39"/>
<circle cx="393.12" cy="201.88" r="3.1" fill="#ff0000" fill-opacity="1" stroke="#ff0000" stroke-opacity="1" stroke-width="1.39"/>
<circle cx="380.62" cy="206.88" r="3.1" fill="#ff0000" fill-opacity="1" stroke="#ff0000" stroke-opacity="1" stroke-width="1.39"/>
<circle cx="367.5" cy="208.12" r="3.1" fill="#ff0000" fill-opacity="1" stroke="#ff0000" stroke-opacity="1" stroke-width="1.39"/>
<circle cx="390.62" cy="213.12" r="3.1" fill="#ff0000" fill-opacity="1" stroke="#ff0000" stroke-opacity="1" stroke-width="1.39"/>
<circle cx="410.62" cy="218.75" r="3.1" fill="#ff0000" fill-opacity="1" stroke="#ff0000" stroke-opacity="1" stroke-width="1.39"/>
<circle cx="384.38" cy="218.75" r="3.1" fill="#ff0000" fill-opacity="1" stroke="#ff0000" stroke-opacity="1" stroke-width="1.39"/>
<circle cx="300.38" cy="237.25" r="3.1" fill="#ff0000" fill-opacity="1" stroke="#ff0000" stroke-opacity="1" stroke-width="1.39"/>
<circle cx="323.38" cy="236.25" r="3.1" fill="#ff0000" fill-opacity="1" stroke="#ff0000" stroke-opacity="1" stroke-width="1.39"/>
<circle cx="337.5" cy="253.12" r="3.1" fill="#ff0000" fill-opacity="1" stroke="#ff0000" stroke-opacity="1" stroke-width="1.39"/>
<circle cx="314.5" cy="275.0" r="3.1" fill="#ff0000" fill-opacity="1" stroke="#ff0000" stroke-opacity="1" stroke-width="1.39"/>
<circle cx="401.5" cy="224.38" r="3.1" fill="#ff0000" fill-opacity="1" stroke="#ff0000" stroke-opacity="1" stroke-width="1.39"/>
<circle cx="295.38" cy="291.31" r="3.1" fill="#ff0000" fill-opacity="1" stroke="#ff0000" stroke-opacity="1" stroke-width="1.39"/>
<circle cx="344.06" cy="188.44" r="3.1" fill="#ff0000" fill-opacity="1" stroke="#ff0000" stroke-opacity="1" stroke-width="1.39"/>
<circle cx="350.16" cy="187.03" r="3.1" fill="#ff0000" fill-opacity="1" stroke="#ff0000" stroke-opacity="1" stroke-width="1.39"/>
<circle cx="346.87" cy="191.25" r="3.1" fill="#ff0000" fill-opacity="1" stroke="#ff0000" stroke-opacity="1" stroke-width="1.39"/>
<circle cx="356.25" cy="170.16" r="3.1" fill="#ff0000" fill-opacity="1" stroke="#ff0000" stroke-opacity="1" stroke-width="1.39"/>
<circle cx="355.31" cy="175.31" r="3.1" fill="#ff0000" fill-opacity="1" stroke="#ff0000" stroke-opacity="1" stroke-width="1.39"/>
<circle cx="362.81" cy="163.12" r="3.1" fill="#ff0000" fill-opacity="1" stroke="#ff0000" stroke-opacity="1" stroke-width="1.39"/>
<circle cx="373.12" cy="162.19" r="3.1" fill="#ff0000" fill-opacity="1" stroke="#ff0000" stroke-opacity="1" stroke-width="1.39"/>
<circle cx="348.59" cy="199.22" r="3.1" fill="#ff0000" fill-opacity="1" stroke="#ff0000" stroke-opacity="1" stroke-width="1.39"/>
<circle cx="353.28" cy="198.28" r="3.1" fill="#ff0000" fill-opacity="1" stroke="#ff0000" stroke-opacity="1" stroke-width="1.39"/>
<circle cx="376.87" cy="168.12" r="3.1" fill="#ff0000" fill-opacity="1" stroke="#ff0000" stroke-opacity="1" stroke-width="1.39"/>
<circle cx="376.87" cy="162.5" r="3.1" fill="#ff0000" fill-opacity="1" stroke="#ff0000" stroke-opacity="1" stroke-width="1.39"/>
<circle cx="376.87" cy="179.37" r="3.1" fill="#ff0000" fill-opacity="1" stroke="#ff0000" stroke-opacity="1" stroke-width="1.39"/>
<circle cx="390.62" cy="193.12" r="3.1" fill="#ff0000" fill-opacity="1" stroke="#ff0000" stroke-opacity="1" stroke-width="1.39"/>
<circle cx="397.19" cy="194.53" r="3.1" fill="#ff0000" fill-opacity="1" stroke="#ff0000" stroke-opacity="1" stroke-width="1.39"/>
<circle cx="402.81" cy="197.34" r="3.1" fill="#ff0000" fill-opacity="1" stroke="#ff0000" stroke-opacity="1" stroke-width="1.39"/>
<circle cx="360.94" cy="167.5" r="3.1" fill="#ff0000" fill-opacity="1" stroke="#ff0000" stroke-opacity="1" stroke-width="1.39"/>
<circle cx="368.44" cy="166.56" r="3.1" fill="#ff0000" fill-opacity="1" stroke="#ff0000" stroke-opacity="1" stroke-width="1.39"/>
<circle cx="364.69" cy="172.19" r="3.1" fill="#ff0000" fill-opacity="1" stroke="#ff0000" stroke-opacity="1" stroke-width="1.39"/>
<circle cx="372.19" cy="171.25" r="3.1" fill="#ff0000" fill-opacity="1" stroke="#ff0000" stroke-opacity="1" stroke-width="1.39"/>
<circle cx="379.69" cy="173.12" r="3.1" fill="#ff0000" fill-opacity="1" stroke="#ff0000" stroke-opacity="1" stroke-width="1.39"/>
<circle cx="393.75" cy="150.0" r="3.1" fill="#0000ff" fill-opacity="1" stroke="#0000ff" stroke-opacity="1" stroke-width="1.39"/>
<circle cx="393.75" cy="146.87" r="3.1" fill="#0000ff" fill-opacity="1" stroke="#0000ff" stroke-opacity="1" stroke-width="1.39"/>
</g>
<g>
<text x="241.79" y="421.08">x</text>
<text x="142.51" y="377.86">−0.6</text>
<text x="184.59" y="388.29">−0.4</text>
<text x="227.35" y="398.90">−0.2</text>
<text x="270.83" y="409.69">0.0</text>
<text x="315.03" y="420.65">0.2</text>
<text x="359.97" y="431.80">0.4</text>
<text x="492.17" y="392.42">y</text>
<text x="426.88" y="416.19">−1.5</text>
<text x="448.49" y="399.36">−1.0</text>
<text x="469.55" y="382.94">−0.5</text>
<text x="490.10" y="366.94">0.0</text>
<text x="510.13" y="351.33">0.5</text>
<text x="529.68" y="336.09">1.0</text>
<text x="578.94" y="216.82">z</text>
<text x="543.88" y="301.99">−2.5</text>
<text x="545.36" y="277.87">−2.0</text>
<text x="546.86" y="253.41">−1.5</text>
<text x="548.39" y="228.59">−1.0</text>
<text x="549.93" y="203.42">−0.5</text>
<text x="551.50" y="177.88">0.0</text>
<text x="553.09" y="151.96">0.5</text>
<text class="title" x="327.3" y="78.9">Skew</text>
</g>
</svg>
</body></html>
